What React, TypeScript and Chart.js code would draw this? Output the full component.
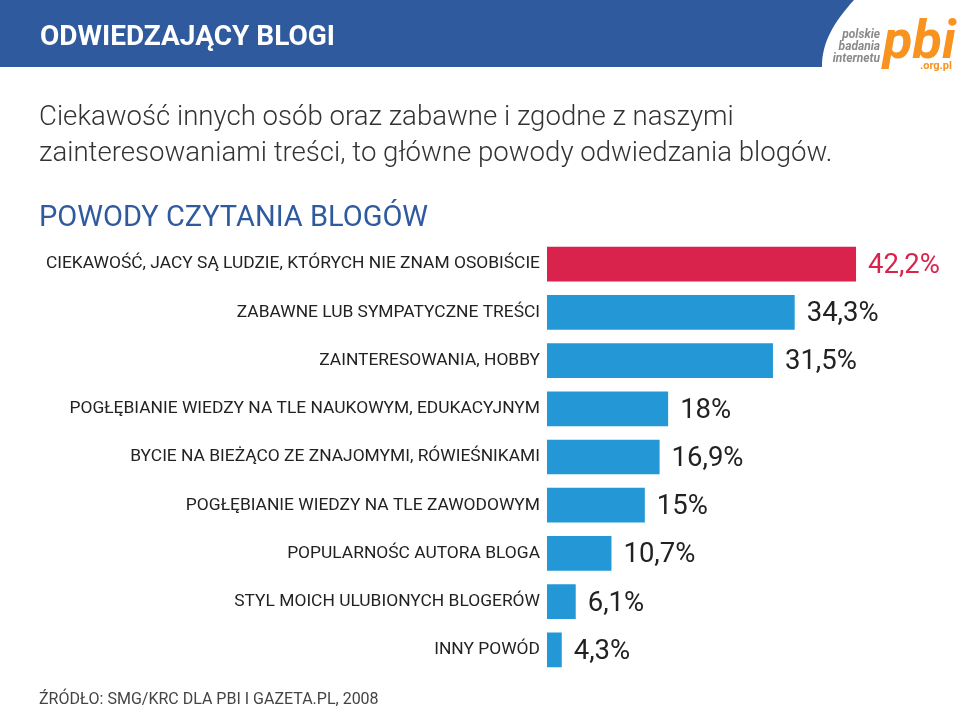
import React, { useEffect, useRef } from "react";
import { Chart, registerables } from "chart.js";

Chart.register(...registerables);

const categories: string[] = [
  "CIEKAWOŚĆ, JACY SĄ LUDZIE, KTÓRYCH NIE ZNAM OSOBIŚCIE",
  "ZABAWNE LUB SYMPATYCZNE TREŚCI",
  "ZAINTERESOWANIA, HOBBY",
  "POGŁĘBIANIE WIEDZY NA TLE NAUKOWYM, EDUKACYJNYM",
  "BYCIE NA BIEŻĄCO ZE ZNAJOMYMI, RÓWIEŚNIKAMI",
  "POGŁĘBIANIE WIEDZY NA TLE ZAWODOWYM",
  "POPULARNOŚC AUTORA BLOGA",
  "STYL MOICH ULUBIONYCH BLOGERÓW",
  "INNY POWÓD",
];
const values: number[] = [42.2, 34.3, 31.5, 18, 16.9, 15, 10.7, 6.1, 4.3];
const valueLabels: string[] = ["42,2%", "34,3%", "31,5%", "18%", "16,9%", "15%", "10,7%", "6,1%", "4,3%"];

const headerTitle = "ODWIEDZAJĄCY BLOGI";
const subtitleLines: string[] = [
  "Ciekawość innych osób oraz zabawne i zgodne z naszymi",
  "zainteresowaniami treści, to główne powody odwiedzania blogów.",
];
const chartTitle = "POWODY CZYTANIA BLOGÓW";
const sourceText = "ŹRÓDŁO: SMG/KRC DLA PBI I GAZETA.PL, 2008";

const BLUE_HEADER = "#2f5b9e";
const RED = "#d9234c";
const BLUE_BAR = "#2498d6";
const ORANGE = "#f7931e";
const FONT = "Roboto, 'DejaVu Sans', sans-serif";

const decorPlugin = {
  id: "decor",
  beforeDraw(chart: any) {
    const ctx = chart.ctx as CanvasRenderingContext2D;
    ctx.save();
    ctx.fillStyle = "#ffffff";
    ctx.fillRect(0, 0, chart.width, chart.height);
    // header band
    ctx.fillStyle = BLUE_HEADER;
    ctx.beginPath();
    ctx.moveTo(0, 0);
    ctx.lineTo(854, 0);
    ctx.bezierCurveTo(834, 22, 822, 42, 822, 67);
    ctx.lineTo(0, 67);
    ctx.closePath();
    ctx.fill();
    // header title
    ctx.fillStyle = "#ffffff";
    ctx.font = `bold 28px ${FONT}`;
    ctx.textBaseline = "alphabetic";
    ctx.textAlign = "left";
    ctx.fillText(headerTitle, 40, 45);
    // logo
    ctx.fillStyle = "#8a8a8a";
    ctx.font = `italic bold 12px ${FONT}`;
    ctx.textAlign = "right";
    ctx.fillText("polskie", 880, 38);
    ctx.fillText("badania", 880, 50);
    ctx.fillText("internetu", 880, 62);
    ctx.fillStyle = ORANGE;
    ctx.font = `italic bold 54px ${FONT}`;
    ctx.textAlign = "left";
    ctx.fillText("pbi", 883, 58);
    ctx.font = `bold 11px ${FONT}`;
    ctx.fillText(".org.pl", 920, 69);
    // subtitle
    ctx.fillStyle = "#333333";
    ctx.font = `300 27.6px ${FONT}`;
    ctx.fillText(subtitleLines[0], 39, 125);
    ctx.fillText(subtitleLines[1], 39, 161);
    // chart title
    ctx.fillStyle = BLUE_HEADER;
    ctx.font = `400 29px ${FONT}`;
    ctx.fillText(chartTitle, 39, 226);
    // source
    ctx.fillStyle = "#444444";
    ctx.font = `400 16px ${FONT}`;
    ctx.fillText(sourceText, 39, 704);
    ctx.restore();
  },
  afterDatasetsDraw(chart: any) {
    const ctx = chart.ctx as CanvasRenderingContext2D;
    const meta = chart.getDatasetMeta(0);
    ctx.save();
    ctx.font = `400 27.5px ${FONT}`;
    ctx.textAlign = "left";
    ctx.textBaseline = "middle";
    meta.data.forEach((bar: any, i: number) => {
      ctx.fillStyle = i === 0 ? RED : "#222222";
      ctx.fillText(valueLabels[i], bar.x + 12, bar.y + 2);
    });
    ctx.restore();
  },
};

export default function App() {
  const ref = useRef<HTMLCanvasElement>(null);
  useEffect(() => {
    if (!ref.current) return;
    const chart = new Chart(ref.current, {
      type: "bar",
      data: {
        labels: categories,
        datasets: [
          {
            data: values,
            backgroundColor: values.map((_, i) => (i === 0 ? RED : BLUE_BAR)),
            barPercentage: 0.72,
            categoryPercentage: 1,
            borderWidth: 0,
          },
        ],
      },
      options: {
        indexAxis: "y",
        responsive: false,
        animation: false,
        devicePixelRatio: 1,
        layout: { padding: { top: 240, bottom: 34, left: 0, right: 10 } },
        plugins: { legend: { display: false }, tooltip: { enabled: false }, title: { display: false } },
        scales: {
          x: { display: false, min: 2.4, max: 54.3 },
          y: {
            grid: { display: false, drawTicks: false },
            border: { display: false },
            ticks: {
              color: "#222222",
              font: { family: FONT, size: 17.4 },
              padding: 7,
              autoSkip: false,
            },
            afterFit: (s: any) => {
              s.width = 547;
            },
          },
        },
      },
      plugins: [decorPlugin],
    });
    return () => chart.destroy();
  }, []);
  return (
    <div style={{ position: "fixed", left: 0, top: 0, width: 960, height: 708, background: "#fff" }}>
      <canvas ref={ref} width={960} height={708} style={{ width: 960, height: 708, display: "block" }} />
    </div>
  );
}
